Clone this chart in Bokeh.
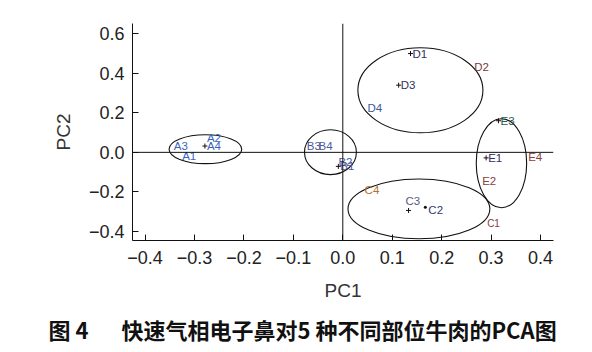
from bokeh.plotting import figure
from bokeh.models import Range1d, Span, FixedTicker, CustomJSTickFormatter, ColumnDataSource, Title
from bokeh.embed import file_html
from bokeh.resources import INLINE
from bokeh.core.properties import value

# ---- data ----
names = ["A1", "A2", "A3", "A4",
         "B1", "B2", "B3", "B4",
         "C1", "C2", "C3", "C4",
         "D1", "D2", "D3", "D4",
         "E1", "E2", "E3", "E4"]
pc1 = [-0.329, -0.279, -0.346, -0.279,
       -0.009, -0.013, -0.077, -0.053,
       0.288, 0.167, 0.133, 0.040,
       0.137, 0.262, 0.113, 0.046,
       0.290, 0.278, 0.315, 0.371]
pc2 = [-0.017, 0.074, 0.034, 0.032,
       -0.071, -0.047, 0.030, 0.030,
       -0.359, -0.278, -0.294, -0.193,
       0.500, 0.434, 0.340, 0.224,
       -0.028, -0.146, 0.160, -0.025]

groups = ["A", "B", "C", "D", "E"]
ell_x = [-0.278, -0.025, 0.154, 0.157, 0.321]
ell_y = [0.016, 0.001, -0.286, 0.314, -0.055]
ell_w = [0.147, 0.105, 0.287, 0.253, 0.102]
ell_h = [0.146, 0.227, 0.303, 0.430, 0.450]

x_ticks = [-0.4, -0.3, -0.2, -0.1, 0.0, 0.1, 0.2, 0.3, 0.4]
y_ticks = [-0.4, -0.2, 0.0, 0.2, 0.4, 0.6]

title_text = "图 4\u3000\u2002快速气相电子鼻对5 种不同部位牛肉的PCA图"

# ---- styles ----
label_colors = ["#3a64b8", "#3a64b8", "#3a64b8", "#3a64b8",
                "#4a5a9a", "#4a5a9a", "#4a5a9a", "#4a5a9a",
                "#8a3a30", "#303a70", "#5a5a80", "#b07030",
                "#303060", "#7a3a3a", "#303060", "#3a5a9a",
                "#303060", "#8a4040", "#2a5a50", "#8a4040"]
dx = [2, 2, 2, 2, 2, 2, 2, 2, 2, 3, -3, 2, 2, 2, 2, 2, 2, 2, 2, 2]
dy = [0, 0, 0, 0, 0, 0, 0, 0, 0, 3, -9, 0, 0, 0, 0, 0, 0, 0, 0, 0]
sizes = ["10px" if n == "C1" else "11.5px" for n in names]
mk_alpha = [0, 0, 0, 1, 1, 0, 0, 0, 0, 0, 1, 0, 1, 0, 1, 0, 1, 0, 1, 0]
dot_alpha = [1 if n == "C2" else 0 for n in names]

p = figure(width=592, height=352, frame_width=421, frame_height=217,
           output_backend="svg", toolbar_location=None,
           x_range=Range1d(-0.4255, 0.4263), y_range=Range1d(-0.446, 0.652),
           min_border_left=132, min_border_right=39, min_border_top=23, min_border_bottom=112)
p.outline_line_color = None
p.grid.visible = False
p.background_fill_color = "white"
p.border_fill_color = "white"

p.add_layout(Span(location=0, dimension="height", line_color="#111111", line_width=1))
p.add_layout(Span(location=0, dimension="width", line_color="#111111", line_width=1))

esrc = ColumnDataSource(dict(x=ell_x, y=ell_y, w=ell_w, h=ell_h))
p.ellipse(x="x", y="y", width="w", height="h", source=esrc,
          fill_alpha=0, line_color="#111111", line_width=1.1)

src = ColumnDataSource(dict(x=pc1, y=pc2, t=names, c=label_colors, dx=dx, dy=dy, s=sizes,
                            ma=mk_alpha, da=dot_alpha))
p.scatter(x="x", y="y", source=src, marker="cross", size=5, line_color="#111111",
          line_width=1, line_alpha="ma")
p.scatter(x="x", y="y", source=src, marker="circle", size=3, line_color=None,
          fill_color="#111111", fill_alpha="da")
p.text(x="x", y="y", text="t", source=src, text_color="c", x_offset="dx", y_offset="dy",
       text_font_size="s", text_baseline="middle", text_align="left",
       text_font=value("Liberation Sans"))

fmt = CustomJSTickFormatter(code="return (tick < -1e-9 ? '\\u2212' : '') + Math.abs(tick).toFixed(1);")
for ax, ticks in ((p.xaxis[0], x_ticks), (p.yaxis[0], y_ticks)):
    ax.ticker = FixedTicker(ticks=ticks)
    ax.formatter = fmt
    ax.major_tick_in = 6
    ax.major_tick_out = 0
    ax.minor_tick_in = 0
    ax.minor_tick_out = 0
    ax.axis_line_color = "#111111"
    ax.major_tick_line_color = "#111111"
    ax.major_label_text_font = "Liberation Sans"
    ax.major_label_text_font_size = "18px"
    ax.major_label_text_color = "#222222"
    ax.axis_label_text_font = "Liberation Sans"
    ax.axis_label_text_font_size = "19px"
    ax.axis_label_text_font_style = "normal"
    ax.axis_label_text_color = "#333333"

p.xaxis.axis_label = "PC1"
p.yaxis.axis_label = "PC2"
p.xaxis.major_label_standoff = 10
p.yaxis.major_label_standoff = 8
p.xaxis.axis_label_standoff = 13
p.yaxis.axis_label_standoff = 12

p.add_layout(Title(text=title_text, align="left", offset=-84, standoff=15,
                   text_font="Noto Sans CJK SC", text_font_style="bold",
                   text_font_size="22px", text_color="#111111"), "below")

open("out.html", "w").write(file_html(p, INLINE))
